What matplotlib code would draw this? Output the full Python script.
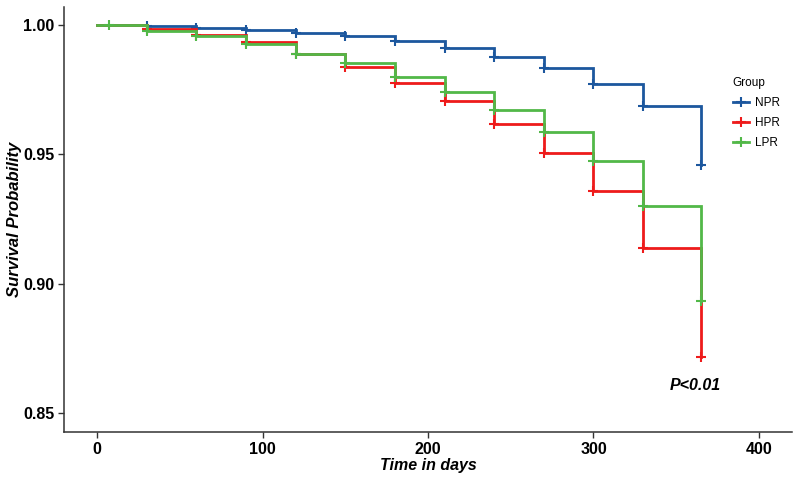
import matplotlib
matplotlib.use('Agg')
import matplotlib.pyplot as plt

# Kaplan-Meier style survival steps
times = [0, 30, 60, 90, 120, 150, 180, 210, 240, 270, 300, 330, 365]
npr = [1.000, 0.9996, 0.9988, 0.9981, 0.9968, 0.9957, 0.9939, 0.9911, 0.9876, 0.9833, 0.9774, 0.9686, 0.9457]
hpr = [1.000, 0.9984, 0.9962, 0.9933, 0.9888, 0.9837, 0.9777, 0.9705, 0.9616, 0.9505, 0.9357, 0.9137, 0.8717]
lpr = [1.000, 0.9979, 0.9956, 0.9926, 0.9889, 0.9853, 0.9800, 0.9742, 0.9673, 0.9587, 0.9473, 0.9300, 0.8934]

# extra censor mark on LPR
lpr_censor_t = [7]
lpr_censor_s = [1.000]

groups = ['NPR', 'HPR', 'LPR']
colors = {'NPR': '#1c579e', 'HPR': '#ee1b1b', 'LPR': '#52b848'}
series = {'NPR': npr, 'HPR': hpr, 'LPR': lpr}

x_ticks = [0, 100, 200, 300, 400]
y_ticks = [0.85, 0.90, 0.95, 1.00]

plt.rcParams['font.family'] = ['Liberation Sans', 'DejaVu Sans']

fig = plt.figure(figsize=(7.99, 4.8), dpi=100)
ax = fig.add_axes([64 / 799, 1 - 432 / 480, (792 - 64) / 799, (432 - 7) / 480])

handles = []
for g in groups:
    s = series[g]
    ax.step(times, s, where='post', color=colors[g], lw=2, solid_joinstyle='miter')
    ax.plot(times[1:], s[1:], ls='none', marker='+', ms=7, mew=1.5, color=colors[g])
    if g == 'LPR':
        ax.plot(lpr_censor_t, lpr_censor_s, ls='none', marker='+', ms=7, mew=1.5, color=colors[g])
    h, = ax.plot([], [], color=colors[g], lw=2, marker='+', ms=7, mew=1.5)
    handles.append(h)

ax.set_xlim(-20, 420)
ax.set_ylim(0.8426, 1.007)
ax.set_xticks(x_ticks)
ax.set_yticks(y_ticks)
ax.set_yticklabels([f'{v:.2f}' for v in y_ticks])

for sp in ['top', 'right']:
    ax.spines[sp].set_visible(False)
for sp in ['left', 'bottom']:
    ax.spines[sp].set_color('#333333')
    ax.spines[sp].set_linewidth(1.1)

ax.tick_params(axis='both', length=4, width=1, color='#333333', labelsize=11.5, pad=3)
for lab in ax.get_xticklabels() + ax.get_yticklabels():
    lab.set_fontweight('bold')
    lab.set_color('black')

ax.set_xlabel('Time in days', fontsize=11.5, fontweight='bold', fontstyle='italic', labelpad=1)
ax.set_ylabel('Survival Probability', fontsize=12, fontweight='bold', fontstyle='italic', labelpad=1)

ax.text(361.7, 0.8605, 'P<0.01', fontsize=11.5, fontweight='bold', fontstyle='italic',
        ha='center', va='center')

leg = fig.legend(handles, groups, title='Group', loc='upper left',
                 bbox_to_anchor=(722 / 799, 1 - 66 / 480), frameon=False,
                 fontsize=8.5, title_fontsize=8.5, handlelength=1.4,
                 handletextpad=0.5, labelspacing=0.7)
leg._legend_box.align = 'left'

fig.savefig('out.png', dpi=100, facecolor='white')
